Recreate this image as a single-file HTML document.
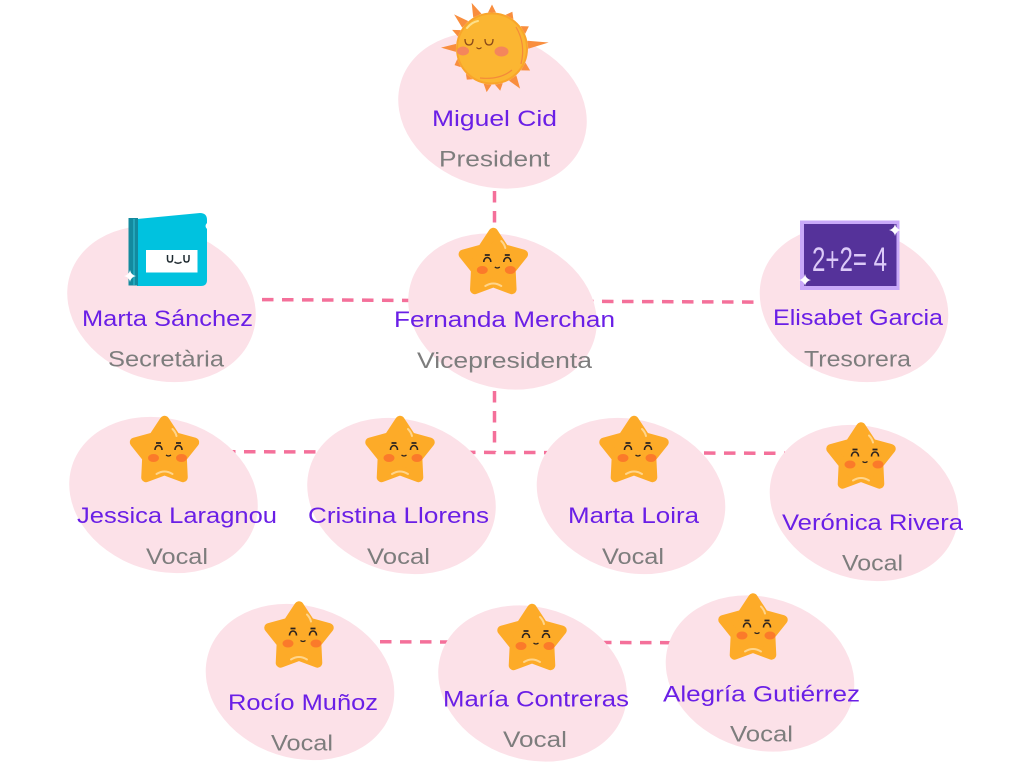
<!DOCTYPE html>
<html><head><meta charset="utf-8">
<style>
html,body{margin:0;padding:0;background:#fff;}
svg{display:block;}
.n{font-family:"Liberation Sans",sans-serif;font-size:22px;fill:#6a1fe6;}
.r{font-family:"Liberation Sans",sans-serif;font-size:22px;fill:#7d7d7d;}
</style></head><body>
<svg width="1024" height="770" viewBox="0 0 1024 770" xmlns="http://www.w3.org/2000/svg">
<defs>
 <g id="star">
  <polygon points="0,-31.5 10.87,-14.96 29.96,-9.73 17.59,5.72 18.52,25.48 0,18.5 -18.52,25.48 -17.59,5.72 -29.96,-9.73 -10.87,-14.96" fill="#fdab28" stroke="#fdab28" stroke-width="9.5" stroke-linejoin="round"/>
  <path d="M8,-23 Q11,-20 12,-16" stroke="#ffd58c" stroke-width="2" fill="none" stroke-linecap="round"/>
  <path d="M-8,22 Q0,17 8,22" stroke="#ffd58c" stroke-width="2" fill="none" stroke-linecap="round"/>
  <ellipse cx="-11" cy="6" rx="5.5" ry="4" fill="#fb7a2a"/>
  <ellipse cx="17" cy="6" rx="5.5" ry="4" fill="#fb7a2a"/>
  <path d="M-9.5,-2 C-9.5,-8 -2.5,-8 -2.5,-2" stroke="#2b2320" stroke-width="1.6" fill="none"/>
  <path d="M10.5,-2 C10.5,-8 17.5,-8 17.5,-2" stroke="#2b2320" stroke-width="1.6" fill="none"/>
  <path d="M-8.5,-9 L-3.5,-9 M11.5,-9 L16.5,-9" stroke="#2b2320" stroke-width="1.8"/>
  <path d="M1.5,3 Q4,5 6.5,3" stroke="#2b2320" stroke-width="1.3" fill="none"/>
 </g>
 <g id="spark">
  <path d="M0,-6 Q1,-1 6,0 Q1,1 0,6 Q-1,1 -6,0 Q-1,-1 0,-6 Z" fill="#ffffff"/>
 </g>
</defs>

<!-- connectors -->
<g stroke="#f4709a" stroke-width="3.5" stroke-dasharray="11.5 8.5" fill="none">
 <line x1="494.5" y1="111" x2="494.5" y2="452"/>
 <line x1="162" y1="299" x2="502" y2="301"/>
 <line x1="502" y1="301" x2="854" y2="302.5"/>
 <line x1="164" y1="451.5" x2="864" y2="453.5"/>
 <line x1="300" y1="641.5" x2="760" y2="643"/>
</g>

<!-- blobs -->
<g fill="#fce1e8">
 <ellipse cx="492.5" cy="110.5" rx="96" ry="76" transform="rotate(18 492.5 110.5)"/>
 <ellipse cx="161.5" cy="304" rx="96" ry="76" transform="rotate(18 161.5 304)"/>
 <ellipse cx="502.5" cy="311.5" rx="96" ry="76" transform="rotate(18 502.5 311.5)"/>
 <ellipse cx="854" cy="304" rx="96" ry="76" transform="rotate(18 854 304)"/>
 <ellipse cx="163.5" cy="495" rx="96" ry="76" transform="rotate(18 163.5 495)"/>
 <ellipse cx="401.5" cy="496" rx="96" ry="76" transform="rotate(18 401.5 496)"/>
 <ellipse cx="631" cy="496" rx="96" ry="76" transform="rotate(18 631 496)"/>
 <ellipse cx="864" cy="503" rx="96" ry="76" transform="rotate(18 864 503)"/>
 <ellipse cx="300" cy="682" rx="96" ry="76" transform="rotate(18 300 682)"/>
 <ellipse cx="532.5" cy="683.5" rx="96" ry="76" transform="rotate(18 532.5 683.5)"/>
 <ellipse cx="760" cy="673.5" rx="96" ry="76" transform="rotate(18 760 673.5)"/>
</g>

<!-- sun -->
<g transform="translate(492 48.5)" fill="#f98e3e">
 <polygon points="36,-4.5 50,0 36,4.5" transform="rotate(-114)"/>
 <polygon points="36,-4 44,0 36,4" transform="rotate(-90)"/>
 <polygon points="36,-4.5 42,0 36,4.5" transform="rotate(-61)"/>
 <polygon points="36,-4.5 43,0 36,4.5" transform="rotate(-31)"/>
 <polygon points="36,-4 57,0 36,4" transform="rotate(-6)"/>
 <polygon points="36,-4.5 44,0 36,4.5" transform="rotate(30)"/>
 <polygon points="36,-4.5 49,0 36,4.5" transform="rotate(55)"/>
 <polygon points="36,-4 43,0 36,4" transform="rotate(79)"/>
 <polygon points="36,-4 44,0 36,4" transform="rotate(97)"/>
 <polygon points="36,-4.5 40,0 36,4.5" transform="rotate(129)"/>
 <polygon points="36,-4.5 41,0 36,4.5" transform="rotate(156)"/>
 <polygon points="36,-4 51,0 36,4" transform="rotate(181)"/>
 <polygon points="36,-3.5 44,0 36,3.5" transform="rotate(-155)"/>
 <polygon points="36,-4.5 51,0 36,4.5" transform="rotate(-138)"/>
</g>
<circle cx="492" cy="48.5" r="35" fill="#fbb632"/>
<circle cx="492" cy="48.5" r="35" fill="none" stroke="#f9a52a" stroke-width="2"/>
<path d="M516,27 Q526,44 521,64" stroke="#f48a3a" stroke-width="1.2" fill="none"/>
<path d="M480,78 Q500,80 512,70" stroke="#f48a3a" stroke-width="1.2" fill="none"/>
<path d="M467,28 Q472,22 478,21" stroke="#fde08a" stroke-width="2" fill="none" stroke-linecap="round"/>
<ellipse cx="463" cy="51" rx="6" ry="4.5" fill="#f4865c"/>
<ellipse cx="501.5" cy="51.5" rx="7" ry="5" fill="#f4865c"/>
<path d="M465,39 Q465,45 469,45 Q473,45 473,39" stroke="#8a4a1a" stroke-width="1.3" fill="none"/>
<path d="M485,39 Q485,45 489,45 Q493,45 493,39" stroke="#8a4a1a" stroke-width="1.3" fill="none"/>
<path d="M476.5,47.5 Q479,50 481.5,47.5" stroke="#8a4a1a" stroke-width="1.2" fill="none"/>

<!-- book -->
<path d="M137,219 L200,213 Q207,213 207,220 L207,223 Q204,226 207,229 L207,280 Q207,286 201,286 L137,286 Z" fill="#00c2df"/>
<rect x="128.5" y="218" width="9.5" height="67.5" fill="#138a9e"/>
<rect x="133" y="219" width="2" height="66" fill="#23a7bb"/>
<rect x="146" y="250" width="51.5" height="22.5" fill="#ffffff"/>
<path d="M167.5,255 L167.5,259 Q167.5,262 170,262 Q172.5,262 172.5,259 L172.5,255" stroke="#1f2a30" stroke-width="1.5" fill="none"/>
<path d="M184,255 L184,259 Q184,262 186.5,262 Q189,262 189,259 L189,255" stroke="#1f2a30" stroke-width="1.5" fill="none"/>
<path d="M174.5,262 Q178,264.5 181.5,262" stroke="#1f2a30" stroke-width="1.4" fill="none"/>
<use href="#spark" x="130" y="276"/>

<!-- chalkboard -->
<rect x="800" y="220.5" width="99.5" height="69.5" fill="#c9a9f9"/>
<rect x="804" y="224" width="92.5" height="62" fill="#55329a"/>
<text x="849.5" y="271" text-anchor="middle" textLength="75" lengthAdjust="spacingAndGlyphs" style="font-family:'Liberation Sans',sans-serif;font-size:34px;fill:#dccaf8;">2+2= 4</text>
<use href="#spark" x="895" y="230"/>
<use href="#spark" x="805" y="280"/>

<!-- stars -->
<use href="#star" x="493.3" y="264"/>
<use href="#star" x="164.5" y="452"/>
<use href="#star" x="400" y="452"/>
<use href="#star" x="634" y="452"/>
<use href="#star" x="861" y="458.5"/>
<use href="#star" x="299" y="637.5"/>
<use href="#star" x="532" y="640"/>
<use href="#star" x="753" y="629.5"/>

<!-- labels -->
<g text-anchor="middle">
 <text class="n" x="494.5" y="126" textLength="125" lengthAdjust="spacingAndGlyphs">Miguel Cid</text>
 <text class="r" x="494.5" y="166.5" textLength="111" lengthAdjust="spacingAndGlyphs">President</text>
 <text class="n" x="167.5" y="326" textLength="171" lengthAdjust="spacingAndGlyphs">Marta Sánchez</text>
 <text class="r" x="166" y="366.5" textLength="116" lengthAdjust="spacingAndGlyphs">Secretària</text>
 <text class="n" x="504.5" y="327" textLength="221" lengthAdjust="spacingAndGlyphs">Fernanda Merchan</text>
 <text class="r" x="504.5" y="368" textLength="175" lengthAdjust="spacingAndGlyphs">Vicepresidenta</text>
 <text class="n" x="858" y="325" textLength="170" lengthAdjust="spacingAndGlyphs">Elisabet Garcia</text>
 <text class="r" x="857.5" y="366.5" textLength="107" lengthAdjust="spacingAndGlyphs">Tresorera</text>
 <text class="n" x="177" y="523" textLength="200" lengthAdjust="spacingAndGlyphs">Jessica Laragnou</text>
 <text class="r" x="177" y="564" textLength="62" lengthAdjust="spacingAndGlyphs">Vocal</text>
 <text class="n" x="398.5" y="523" textLength="181" lengthAdjust="spacingAndGlyphs">Cristina Llorens</text>
 <text class="r" x="398.5" y="564" textLength="63" lengthAdjust="spacingAndGlyphs">Vocal</text>
 <text class="n" x="633.5" y="523" textLength="131" lengthAdjust="spacingAndGlyphs">Marta Loira</text>
 <text class="r" x="633" y="564" textLength="62" lengthAdjust="spacingAndGlyphs">Vocal</text>
 <text class="n" x="872.5" y="530" textLength="181" lengthAdjust="spacingAndGlyphs">Verónica Rivera</text>
 <text class="r" x="872.5" y="570.5" textLength="61" lengthAdjust="spacingAndGlyphs">Vocal</text>
 <text class="n" x="303" y="710" textLength="150" lengthAdjust="spacingAndGlyphs">Rocío Muñoz</text>
 <text class="r" x="302" y="750.5" textLength="62" lengthAdjust="spacingAndGlyphs">Vocal</text>
 <text class="n" x="536" y="706.5" textLength="186" lengthAdjust="spacingAndGlyphs">María Contreras</text>
 <text class="r" x="535" y="747" textLength="64" lengthAdjust="spacingAndGlyphs">Vocal</text>
 <text class="n" x="761.5" y="701.5" textLength="197" lengthAdjust="spacingAndGlyphs">Alegría Gutiérrez</text>
 <text class="r" x="761.5" y="741.5" textLength="63" lengthAdjust="spacingAndGlyphs">Vocal</text>
</g>
</svg>
</body></html>
